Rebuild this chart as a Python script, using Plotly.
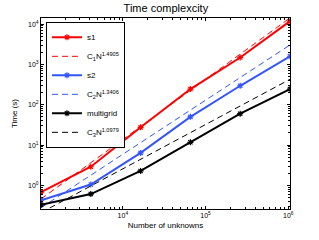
import plotly.graph_objects as go

N = [1024, 4096, 16384, 65536, 262144, 1048576]
s1 = [0.68, 2.9, 27.5, 245, 1480, 11800]
s2 = [0.43, 1.05, 6.4, 50, 295, 1590]
multigrid = [0.33, 0.61, 2.28, 11.7, 60, 245]
fit1 = [0.461, 3.64, 28.7, 227, 1794, 14170]
fit2 = [0.279, 1.79, 11.5, 73.5, 472, 3027]
fit3 = [0.211, 0.968, 4.44, 20.3, 93.1, 427]

x_ticks = [1e4, 1e5, 1e6]
x_ticktext = ["10<sup>4</sup>", "10<sup>5</sup>", "10<sup>6</sup>"]
y_ticks = [1, 10, 100, 1000, 10000]
y_ticktext = ["10<sup>0</sup>", "10<sup>1</sup>", "10<sup>2</sup>", "10<sup>3</sup>", "10<sup>4</sup>"]

RED = "rgb(255,0,0)"
BLUE = "rgb(51,85,255)"
BLACK = "rgb(0,0,0)"

fig = go.Figure()
def solid(y, name, c):
    fig.add_trace(go.Scatter(x=N, y=y, name=name, mode="lines+markers",
                             line=dict(color=c, width=2),
                             marker=dict(symbol="asterisk-open", size=5,
                                         line=dict(color=c, width=1.2))))
def dashed(y, name, c):
    fig.add_trace(go.Scatter(x=N, y=y, name=name, mode="lines",
                             line=dict(color=c, width=1, dash="6px,4px")))

solid(s1, "s1", RED)
dashed(fit1, "C<sub>1</sub>N<sup>1.4905</sup>", RED)
solid(s2, "s2", BLUE)
dashed(fit2, "C<sub>2</sub>N<sup>1.3406</sup>", BLUE)
solid(multigrid, "multigrid", BLACK)
dashed(fit3, "C<sub>3</sub>N<sup>1.0979</sup>", BLACK)

FONT = "Liberation Sans, Arial"
axis_common = dict(type="log", showgrid=False, zeroline=False, showline=True,
                   linecolor="black", linewidth=1, mirror="allticks",
                   ticks="inside", ticklen=3, tickcolor="black",
                   minor=dict(ticks="inside", ticklen=2, tickcolor="black", dtick="D1"),
                   tickfont=dict(family=FONT, size=7, color="black"))

fig.update_layout(
    width=319, height=240,
    margin=dict(l=41, r=29, t=18, b=28),
    paper_bgcolor="white", plot_bgcolor="white",
    title=dict(text="Time complexcity", x=0.52, xanchor="center",
               yref="container", y=0.965, yanchor="middle",
               font=dict(family=FONT, size=11, color="black")),
    xaxis=dict(**axis_common, range=[3.0103, 6.0206],
               tickmode="array", tickvals=x_ticks, ticktext=x_ticktext,
               title=dict(text="Number of unknowns", standoff=3,
                          font=dict(family=FONT, size=8, color="black"))),
    yaxis=dict(**axis_common, range=[-0.585, 4.15],
               tickmode="array", tickvals=y_ticks, ticktext=y_ticktext,
               title=dict(text="Time (s)", standoff=9,
                          font=dict(family=FONT, size=8, color="black"))),
    legend=dict(x=0.02, y=0.98, xanchor="left", yanchor="top",
                bgcolor="white", bordercolor="black", borderwidth=1,
                font=dict(family=FONT, size=8, color="black"),
                tracegroupgap=0, itemwidth=30),
    showlegend=True,
)

fig.write_html("out.html", config={"displayModeBar": False},
               post_script="document.body.style.margin='0';")
